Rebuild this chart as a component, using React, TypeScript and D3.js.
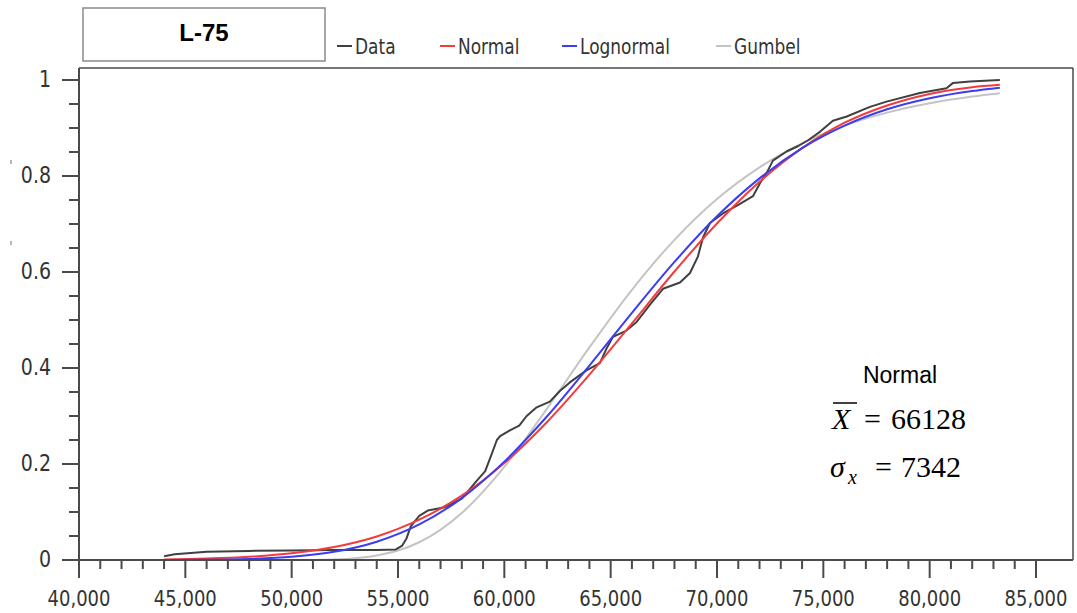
import React from 'react';
import * as d3 from 'd3';

const xMajorTicks = [40000, 45000, 50000, 55000, 60000, 65000, 70000, 75000, 80000, 85000];
const yMajorTicks = [0, 0.2, 0.4, 0.6, 0.8, 1];
const seriesNames = ['Data', 'Normal', 'Lognormal', 'Gumbel'];
const seriesColors = ['#404040', '#f23c3c', '#3c3cf2', '#c4c4c4'];

const dataX = [44000, 44500, 46000, 48000, 50000, 52000, 54000, 54900, 55200, 55400, 55600, 56000, 56400, 57200, 58000, 58700, 59100, 59400, 59650, 59800, 60260, 60700, 61050, 61520, 62140, 62610, 63080, 63860, 64490, 64800, 65110, 65740, 66220, 66850, 67460, 68260, 68730, 69100, 69340, 69670, 70280, 71080, 71690, 72020, 72330, 72630, 73270, 73800, 74300, 74840, 75450, 76100, 77190, 77970, 79540, 80790, 81100, 81890, 83300];
const dataY = [0.008, 0.012, 0.017, 0.019, 0.02, 0.021, 0.021, 0.022, 0.03, 0.045, 0.07, 0.092, 0.103, 0.11, 0.128, 0.165, 0.185, 0.22, 0.25, 0.258, 0.27, 0.28, 0.3, 0.318, 0.33, 0.352, 0.37, 0.395, 0.41, 0.44, 0.465, 0.478, 0.496, 0.532, 0.565, 0.578, 0.598, 0.632, 0.672, 0.702, 0.722, 0.742, 0.758, 0.785, 0.806, 0.832, 0.851, 0.862, 0.875, 0.892, 0.915, 0.924, 0.944, 0.955, 0.973, 0.983, 0.994, 0.997, 1.0];

const fitX = [44000, 46000, 48000, 50000, 52000, 54000, 56000, 58000, 60000, 62000, 64000, 66000, 68000, 70000, 72000, 74000, 76000, 78000, 80000, 82000, 83300];
const normalY = [0.0013, 0.0031, 0.0068, 0.014, 0.027, 0.049, 0.084, 0.134, 0.202, 0.287, 0.386, 0.493, 0.601, 0.701, 0.788, 0.858, 0.911, 0.947, 0.971, 0.985, 0.99];
const lognormalY = [0.0002, 0.0006, 0.0023, 0.0068, 0.017, 0.038, 0.074, 0.129, 0.205, 0.299, 0.405, 0.515, 0.621, 0.716, 0.795, 0.858, 0.905, 0.939, 0.962, 0.977, 0.984];
const gumbelX = [44000, 46000, 48000, 50000, 52000, 54000, 55000, 56000, 58000, 60000, 62000, 64000, 66000, 68000, 70000, 72000, 74000, 76000, 78000, 80000, 82000, 83300];
const gumbelY = [0, 0, 0, 0.0001, 0.0013, 0.0094, 0.0198, 0.037, 0.098, 0.194, 0.315, 0.443, 0.563, 0.667, 0.752, 0.818, 0.868, 0.905, 0.932, 0.9515, 0.9655, 0.9724];

const titleText = 'L-75';
const annotTitle = 'Normal';
const meanValue = '66128';
const sdValue = '7342';

export default function App() {
  const W = 1077, H = 613;
  const x = d3.scaleLinear().domain([40000, 85000]).range([79, 1036]);
  const y = d3.scaleLinear().domain([0, 1]).range([560, 80]);
  const plotRight = 1073, plotTop = 68, plotBottom = 560, plotLeft = 79;

  const line = d3.line<[number, number]>().x(d => x(d[0])).y(d => y(d[1]));
  const smooth = d3.line<[number, number]>().x(d => x(d[0])).y(d => y(d[1])).curve(d3.curveMonotoneX);

  const dataPts = dataX.map((v, i) => [v, dataY[i]] as [number, number]);
  const normalPts = fitX.map((v, i) => [v, normalY[i]] as [number, number]);
  const lognormalPts = fitX.map((v, i) => [v, lognormalY[i]] as [number, number]);
  const gumbelPts = gumbelX.map((v, i) => [v, gumbelY[i]] as [number, number]);

  const xMinor = d3.range(40000, 85001, 1000).filter(v => v % 5000 !== 0);
  const yMinor = d3.range(0, 21).map(i => i * 0.05).filter((v, i) => i % 4 !== 0);
  const fmtX = d3.format(',');
  const fmtY = (v: number) => String(+v.toFixed(1));

  const tickFont = '"DejaVu Sans", Verdana, sans-serif';
  const sy = 1.2;
  const axisColor = '#4a4a4a';
  const textColor = '#333';

  const legendItems = [
    { lx: 337, tx: 355 },
    { lx: 440, tx: 458 },
    { lx: 562, tx: 580 },
    { lx: 716, tx: 734 },
  ];

  return (
    <svg width={W} height={H} style={{ position: 'absolute', left: 0, top: 0, display: 'block', background: '#fff' }}>
      <rect x={0} y={0} width={W} height={H} fill="#fff" />
      {/* title box */}
      <rect x={83} y={8} width={242} height={53} fill="#fff" stroke="#8a8a8a" strokeWidth={1.5} />
      <text x={204} y={41} textAnchor="middle" fontFamily='"Liberation Sans", Arial, sans-serif' fontWeight="bold" fontSize={24} fill="#000">{titleText}</text>

      {/* legend */}
      {seriesNames.map((n, i) => (
        <g key={n}>
          <line x1={legendItems[i].lx} x2={legendItems[i].lx + 15} y1={46} y2={46} stroke={seriesColors[i]} strokeWidth={2} />
          <text transform={`translate(${legendItems[i].tx},54) scale(1,${sy})`} fontFamily={tickFont} fontSize={17} fill={textColor}>{n}</text>
        </g>
      ))}

      {/* plot frame */}
      <line x1={plotLeft} x2={plotRight} y1={plotTop} y2={plotTop} stroke={axisColor} strokeWidth={1.5} />
      <line x1={plotRight} x2={plotRight} y1={plotTop} y2={plotBottom} stroke={axisColor} strokeWidth={1.5} />

      {/* curves */}
      <path d={smooth(gumbelPts) || ''} fill="none" stroke={seriesColors[3]} strokeWidth={2} />
      <path d={line(dataPts) || ''} fill="none" stroke={seriesColors[0]} strokeWidth={2} strokeLinejoin="round" />
      <path d={smooth(normalPts) || ''} fill="none" stroke={seriesColors[1]} strokeWidth={2} />
      <path d={smooth(lognormalPts) || ''} fill="none" stroke={seriesColors[2]} strokeWidth={2} />

      {/* axes */}
      <line x1={plotLeft} x2={plotLeft} y1={plotTop} y2={plotBottom} stroke={axisColor} strokeWidth={2} />
      <line x1={plotLeft} x2={plotRight} y1={plotBottom} y2={plotBottom} stroke={axisColor} strokeWidth={2} />

      {xMajorTicks.map(v => (
        <g key={'xm' + v}>
          <line x1={x(v)} x2={x(v)} y1={plotBottom} y2={plotBottom + 18} stroke={axisColor} strokeWidth={2} />
          <text transform={`translate(${x(v)},606) scale(1,${sy})`} textAnchor="middle" fontFamily={tickFont} fontSize={18} fill={textColor}>{fmtX(v)}</text>
        </g>
      ))}
      {xMinor.map(v => (
        <line key={'xn' + v} x1={x(v)} x2={x(v)} y1={plotBottom} y2={plotBottom + 9} stroke={axisColor} strokeWidth={2} />
      ))}
      {yMajorTicks.map(v => (
        <g key={'ym' + v}>
          <line x1={plotLeft - 17} x2={plotLeft} y1={y(v)} y2={y(v)} stroke={axisColor} strokeWidth={2} />
          <text transform={`translate(51,${y(v) + 7}) scale(1,${sy})`} textAnchor="end" fontFamily={tickFont} fontSize={19} fill={textColor}>{fmtY(v)}</text>
        </g>
      ))}
      {yMinor.map(v => (
        <line key={'yn' + v} x1={plotLeft - 10} x2={plotLeft} y1={y(v)} y2={y(v)} stroke={axisColor} strokeWidth={2} />
      ))}

      {/* stray marks left of axis */}
      <line x1={11} x2={11} y1={160} y2={164} stroke="#888" strokeWidth={1.2} />
      <line x1={11} x2={11} y1={241} y2={245} stroke="#888" strokeWidth={1.2} />

      {/* annotation */}
      <text x={900} y={383} textAnchor="middle" fontFamily='"Liberation Sans", Arial, sans-serif' fontSize={23} fill="#000">{annotTitle}</text>
      <g fontFamily='"Liberation Serif", "Times New Roman", serif' fontSize={30} fill="#000">
        <text x={832} y={429} fontStyle="italic">X</text>
        <line x1={833} x2={857} y1={403} y2={403} stroke="#000" strokeWidth={1.5} />
        <text x={864} y={429}>=</text>
        <text x={891} y={429}>{meanValue}</text>
        <text x={830} y={477} fontStyle="italic">σ</text>
        <text x={848} y={484} fontStyle="italic" fontSize={20}>x</text>
        <text x={875} y={477}>=</text>
        <text x={901} y={477}>{sdValue}</text>
      </g>
    </svg>
  );
}
